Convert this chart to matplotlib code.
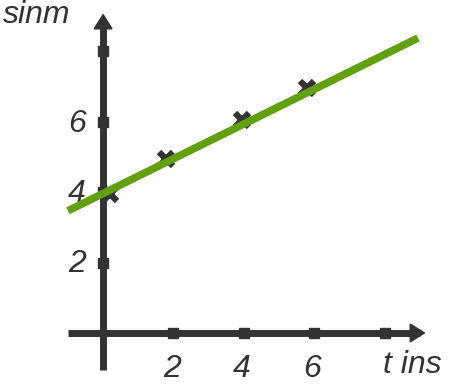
import matplotlib
matplotlib.use("Agg")

import matplotlib.pyplot as plt

# -------------------------------
# Data
# -------------------------------
t_points = [0.2, 1.8, 3.95, 5.8]
s_points = [3.95, 4.95, 6.05, 6.95]

line_t = [-1.0, 8.95]
line_s = [3.47, 8.38]

x_ticks = [2, 4, 6, 8]
y_ticks = [2, 4, 6, 8]
x_tick_labels = ["2", "4", "6"]
y_tick_labels = ["2", "4", "6"]

x_label = "t ins"
y_label = "sinm"

# -------------------------------
# Figure: axes fill the whole canvas
# -------------------------------
dark = "#333333"
green = "#63a00f"

fig = plt.figure(figsize=(4.5, 3.84), dpi=100)
ax = fig.add_axes([0, 0, 1, 1])
ax.set_xlim(-2.93, 9.86)
ax.set_ylim(-1.45, 9.46)
ax.axis("off")

font = dict(family="Liberation Sans", style="italic", color=dark, fontsize=23)

# axes with arrow heads
ax.plot([-0.99, 9.0], [0, 0], color=dark, lw=5, solid_capstyle="butt", zorder=2)
ax.plot([0, 0], [-1.05, 8.9], color=dark, lw=5, solid_capstyle="butt", zorder=2)
ax.annotate("", xy=(9.17, 0), xytext=(8.5, 0),
            arrowprops=dict(arrowstyle="-|>,head_length=0.95,head_width=0.6",
                            color=dark, lw=1.5, shrinkA=0, shrinkB=0), zorder=3)
ax.annotate("", xy=(0, 9.08), xytext=(0, 8.4),
            arrowprops=dict(arrowstyle="-|>,head_length=0.95,head_width=0.6",
                            color=dark, lw=1.5, shrinkA=0, shrinkB=0), zorder=3)

# tick squares
ax.plot(x_ticks, [0] * len(x_ticks), "s", color=dark, ms=7, zorder=3)
ax.plot([0] * len(y_ticks), y_ticks, "s", color=dark, ms=7, zorder=3)

# tick labels
for x, lab in zip(x_ticks, x_tick_labels):
    ax.text(x - 0.05, -1.02, lab, ha="center", va="center", **font)
for y, lab in zip(y_ticks, y_tick_labels):
    ax.text(-0.5, y - 0.05, lab, ha="right", va="center", **font)

# axis titles
ax.text(7.95, -0.9, x_label, ha="left", va="center", **font)
ax.text(-2.85, 9.03, y_label, ha="left", va="center", **font)

# measured points and fitted line
ax.plot(t_points, s_points, "x", color=dark, ms=10, mew=4.5, zorder=4)
ax.plot(line_t, line_s, color=green, lw=5.5, solid_capstyle="butt", zorder=5)

fig.savefig("out.png", dpi=100)
